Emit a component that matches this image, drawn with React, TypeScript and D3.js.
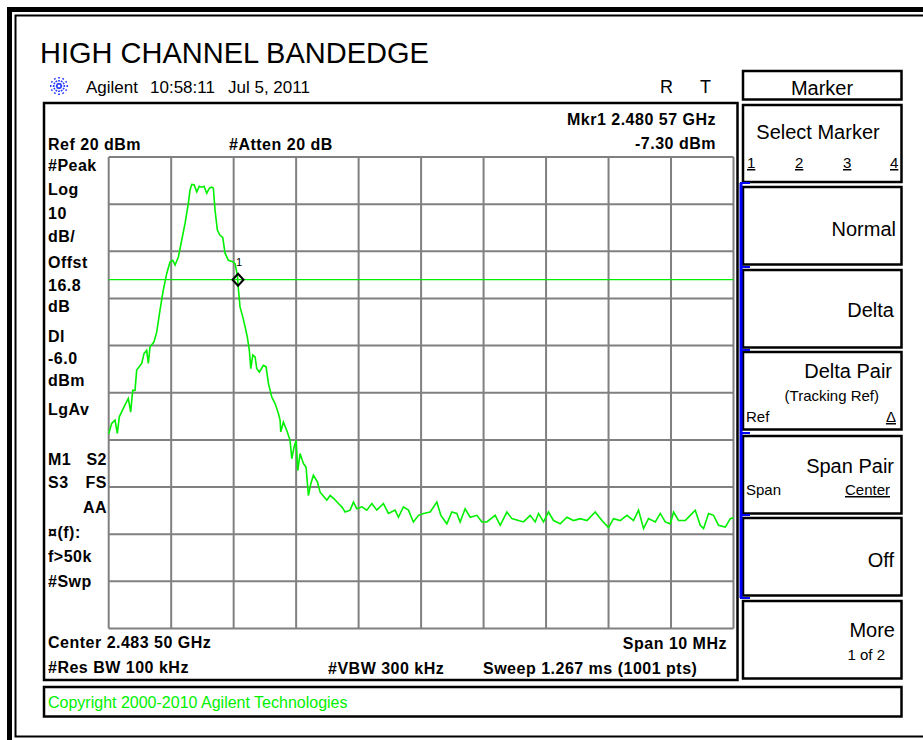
import * as React from 'react';
import * as d3 from 'd3';

const useMemo = React.useMemo;

// sweep settings
const startMHz = 2478.5;
const spanMHz = 10;
const refLevel = 20;
const dbPerDiv = 10;
const displayLine = -6.0;
const markerFreqMHz = 2480.57;
const markerLevel = -7.3;

// trace: offset from start (MHz) and level (dBm)
const traceMHz = [
  0.0, 0.048, 0.101, 0.138, 0.17, 0.245, 0.314, 0.352, 0.384, 0.421, 0.448, 0.528, 0.565, 0.608, 0.634, 0.661,
  0.725, 0.769, 0.821, 0.874, 0.929, 0.982, 1.025, 1.062, 1.115, 1.169, 1.222, 1.275, 1.302, 1.329, 1.366, 1.409,
  1.451, 1.489, 1.526, 1.569, 1.611, 1.649, 1.675, 1.702, 1.739, 1.782, 1.825, 1.862, 1.915, 1.986, 2.022, 2.059,
  2.075, 2.102, 2.146, 2.183, 2.219, 2.251, 2.274, 2.306, 2.343, 2.37, 2.412, 2.476, 2.519, 2.556, 2.61, 2.663,
  2.716, 2.743, 2.754, 2.796, 2.85, 2.903, 2.93, 2.967, 2.999, 3.026, 3.063, 3.116, 3.159, 3.196, 3.235, 3.276,
  3.34, 3.384, 3.448, 3.491, 3.544, 3.608, 3.677, 3.731, 3.784, 3.864, 3.917, 3.971, 4.051, 4.131, 4.211, 4.291,
  4.397, 4.477, 4.584, 4.637, 4.717, 4.797, 4.877, 4.958, 5.038, 5.145, 5.252, 5.316, 5.412, 5.492, 5.572, 5.625,
  5.705, 5.785, 5.893, 5.973, 6.053, 6.186, 6.266, 6.373, 6.453, 6.559, 6.639, 6.746, 6.826, 6.879, 6.959, 7.039,
  7.119, 7.226, 7.334, 7.44, 7.547, 7.654, 7.787, 7.894, 8.0, 8.08, 8.187, 8.295, 8.4, 8.48, 8.56, 8.64,
  8.748, 8.828, 8.908, 8.988, 9.041, 9.121, 9.228, 9.308, 9.388, 9.468, 9.521, 9.601, 9.681, 9.761, 9.869, 9.949,
  10.0
];
const traceDbm = [
  -38.7, -36.5, -35.8, -38.6, -35.1, -33.0, -31.2, -34.1, -29.5, -29.5, -25.2, -23.8, -21.7, -21.0, -23.8, -20.3,
  -19.2, -17.1, -12.5, -8.2, -4.7, -2.2, -1.9, -2.9, -1.2, 2.4, 5.9, 10.2, 13.0, 14.2, 14.1, 12.6,
  13.8, 13.6, 13.8, 12.3, 13.4, 13.6, 13.4, 8.7, 4.5, 3.4, 2.95, -0.4, -1.9, -2.2, -2.6, -5.05,
  -7.9, -11.8, -13.9, -16.0, -18.2, -21.0, -24.9, -22.0, -22.4, -24.9, -25.6, -24.2, -24.5, -28.0, -30.9, -32.3,
  -34.4, -35.8, -38.3, -36.2, -38.0, -40.1, -44.0, -41.5, -40.1, -46.5, -42.9, -45.0, -45.8, -51.8, -49.3, -47.5,
  -48.9, -51.1, -52.1, -52.8, -51.8, -52.5, -53.5, -54.2, -55.3, -54.9, -53.2, -54.6, -54.2, -54.9, -53.5, -54.9,
  -53.5, -55.6, -54.9, -56.4, -54.2, -54.9, -57.4, -56.0, -55.6, -55.3, -53.2, -56.0, -57.8, -55.3, -55.6, -57.4,
  -54.6, -56.4, -56.0, -57.4, -57.4, -56.0, -58.1, -55.3, -56.7, -57.1, -57.4, -56.0, -57.4, -55.6, -57.4, -55.3,
  -57.1, -57.8, -56.4, -57.1, -56.7, -57.1, -55.3, -57.1, -58.6, -56.7, -57.1, -56.0, -57.1, -54.9, -58.8, -56.7,
  -57.4, -55.6, -57.4, -57.8, -55.3, -57.1, -57.1, -56.0, -54.9, -58.1, -58.8, -55.6, -56.0, -58.1, -58.5, -56.7,
  -56.5
];

const leftLabels = ['#Peak', 'Log', '10', 'dB/', 'Offst', '16.8', 'dB', 'Dl', '-6.0', 'dBm', 'LgAv'];
const leftLabelY = [171, 195, 219, 242, 268, 291, 312, 342, 364, 386, 415];
const statusLeft = ['M1', 'S3', '', '\u00a4(f):', 'f>50k', '#Swp'];
const statusRight = ['S2', 'FS', 'AA', '', '', ''];
const statusY = [465, 488, 513, 538, 562, 587];

const softkeys = ['Normal', 'Delta', 'Delta Pair', 'Span Pair', 'Off', 'More'];

const mono = '"Liberation Sans", Arial, sans-serif';
const green = '#00f000';

export default function App() {
  const x = useMemo(
    () => d3.scaleLinear().domain([0, spanMHz]).range([108.7, 733.5]),
    []
  );
  const y = useMemo(
    () => d3.scaleLinear().domain([refLevel, refLevel - 10 * dbPerDiv]).range([157, 628.5]),
    []
  );
  const line = d3
    .line<number>()
    .x((d, i) => x(d))
    .y((d, i) => y(traceDbm[i]));
  const divs = d3.range(0, 11);
  const mx = x(markerFreqMHz - startMHz);
  const my = y(markerLevel);

  const bold = { fontFamily: mono, fontWeight: 'bold' as const, fontSize: 16, letterSpacing: 0.5 };
  const soft = { fontFamily: mono, fontSize: 20 };
  const small = { fontFamily: mono, fontSize: 15 };

  const keyTop = [187, 270, 352, 436, 518, 601];
  const hooks = [183, 267, 350, 433, 515, 598];

  return (
    <svg width="923" height="740" style={{ position: 'absolute', left: 0, top: 0, background: '#fff' }}>
      {/* outer frame */}
      <rect x="9.5" y="9.5" width="940" height="760" fill="none" stroke="#000" strokeWidth="5" />
      <rect x="15.5" y="15.5" width="930" height="721" fill="none" stroke="#000" strokeWidth="2" />

      <text x="40" y="63" fontFamily={mono} fontSize="29">HIGH CHANNEL BANDEDGE</text>

      {/* logo */}
      <g transform="translate(59,86)" stroke="#2a3cff" strokeWidth="1.8" strokeDasharray="1.6 1.4">
        {d3.range(0, 12).map(k => {
          const a = (k * Math.PI) / 6;
          return <line key={k} x1={Math.cos(a) * 1.5} y1={Math.sin(a) * 1.5} x2={Math.cos(a) * 9} y2={Math.sin(a) * 9} />;
        })}
      </g>
      <text x="86" y="93" fontFamily={mono} fontSize="17">Agilent</text>
      <text x="150" y="93" fontFamily={mono} fontSize="17">10:58:11</text>
      <text x="228" y="93" fontFamily={mono} fontSize="17">Jul 5, 2011</text>
      <text x="660" y="93" fontFamily={mono} fontSize="18">R</text>
      <text x="700" y="93" fontFamily={mono} fontSize="18">T</text>

      {/* main screen */}
      <rect x="44" y="103" width="693.5" height="577" fill="#fff" stroke="#000" strokeWidth="2.5" />
      <text x="48" y="150" {...bold}>Ref 20 dBm</text>
      <text x="229" y="150" {...bold}>#Atten 20 dB</text>
      <text x="716" y="125" textAnchor="end" {...bold}>Mkr1  2.480 57 GHz</text>
      <text x="716" y="149" textAnchor="end" {...bold}>-7.30 dBm</text>
      {leftLabels.map((t, i) => (
        <text key={t} x="48" y={leftLabelY[i]} {...bold}>{t}</text>
      ))}
      {statusY.map((yy, i) => (
        <g key={i}>
          <text x="48" y={yy} {...bold}>{statusLeft[i]}</text>
          <text x="107" y={yy} textAnchor="end" {...bold}>{statusRight[i]}</text>
        </g>
      ))}
      <text x="48" y="648" {...bold}>Center 2.483 50 GHz</text>
      <text x="48" y="673" {...bold}>#Res BW 100 kHz</text>
      <text x="328" y="674" {...bold}>#VBW 300 kHz</text>
      <text x="483" y="674" {...bold}>Sweep 1.267 ms (1001 pts)</text>
      <text x="727" y="649" textAnchor="end" {...bold}>Span 10 MHz</text>

      {/* graticule */}
      <g stroke="#808080" strokeWidth="2">
        {divs.map(i => (
          <line key={'v' + i} x1={x(i)} x2={x(i)} y1={y(refLevel)} y2={y(refLevel - 100)} />
        ))}
        {divs.map(i => (
          <line key={'h' + i} x1={x(0)} x2={x(10)} y1={y(refLevel - i * dbPerDiv)} y2={y(refLevel - i * dbPerDiv)} />
        ))}
      </g>
      <line x1={x(0)} x2={x(10)} y1={y(displayLine)} y2={y(displayLine)} stroke={green} strokeWidth="1.3" />
      <path d={line(traceMHz) || ''} fill="none" stroke={green} strokeWidth="1.6" strokeLinejoin="miter" />
      {/* marker */}
      <path
        d={`M${mx},${my - 12}L${mx + 5.5},${my - 6}L${mx},${my}L${mx - 5.5},${my - 6}Z`}
        fill="none"
        stroke="#000"
        strokeWidth="2"
      />
      <text x={mx - 2} y={my - 20} fontFamily={mono} fontSize="11" fill="#000">1</text>

      {/* softkey panel */}
      <rect x="743" y="71" width="158.5" height="28.5" fill="#fff" stroke="#000" strokeWidth="2.5" />
      <text x="822" y="95" textAnchor="middle" {...soft}>Marker</text>
      <rect x="743" y="105" width="158.5" height="77" fill="#fff" stroke="#000" strokeWidth="2.5" />
      <text x="818" y="139" textAnchor="middle" {...soft}>Select Marker</text>
      {['1', '2', '3', '4'].map((t, i) => (
        <text key={t} x={[747, 795, 843, 890][i]} y="168" {...small} textDecoration="underline">{t}</text>
      ))}
      {softkeys.map((k, i) => (
        <rect key={k} x="743" y={keyTop[i]} width="158.5" height="77.5" fill="#fff" stroke="#000" strokeWidth="2.5" />
      ))}
      <text x="896" y="236" textAnchor="end" {...soft}>Normal</text>
      <text x="894" y="317" textAnchor="end" {...soft}>Delta</text>
      <text x="892" y="378" textAnchor="end" {...soft}>Delta Pair</text>
      <text x="879" y="401" textAnchor="end" {...small}>(Tracking Ref)</text>
      <text x="746" y="422" {...small}>Ref</text>
      <text x="896" y="422" textAnchor="end" {...small} textDecoration="underline">{'\u0394'}</text>
      <text x="894" y="473" textAnchor="end" {...soft}>Span Pair</text>
      <text x="746" y="495" {...small}>Span</text>
      <text x="890" y="495" textAnchor="end" {...small} textDecoration="underline">Center</text>
      <text x="894" y="567" textAnchor="end" {...soft}>Off</text>
      <text x="895" y="637" textAnchor="end" {...soft}>More</text>
      <text x="885" y="660" textAnchor="end" {...small}>1 of 2</text>
      <line x1="741" x2="741" y1={hooks[0]} y2={hooks[5]} stroke="#0000ff" strokeWidth="3" />
      {hooks.map(h => (
        <line key={h} x1="740" x2="750" y1={h} y2={h} stroke="#0000ff" strokeWidth="2" />
      ))}

      {/* status bar */}
      <rect x="44" y="687" width="857.5" height="29.5" fill="#fff" stroke="#000" strokeWidth="2.5" />
      <text x="48" y="708" fontFamily={mono} fontSize="16" fill={green}>Copyright 2000-2010 Agilent Technologies</text>
    </svg>
  );
}
